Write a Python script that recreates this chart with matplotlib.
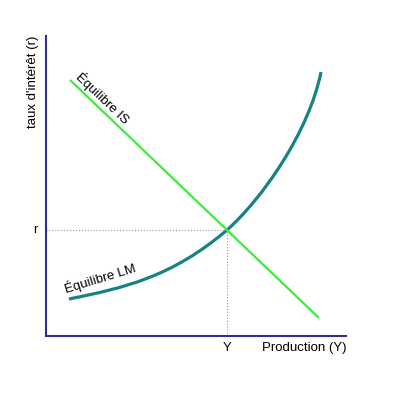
import matplotlib
matplotlib.use('Agg')
import matplotlib.pyplot as plt
from matplotlib.path import Path
from matplotlib.patches import PathPatch

plt.rcParams['font.family'] = ['Liberation Sans', 'DejaVu Sans']

# IS curve (straight line), in chart units
is_x = [24, 273]
is_y = [256, 18]

# LM curve as two cubic Bezier segments: start, control, control, eq, control, control, end
lm_x = [23, 78, 126, 181, 216, 263, 275]
lm_y = [37, 48, 59, 106, 137, 204, 264]

# equilibrium point
eq_x = 181
eq_y = 106

spine_color = '#2e2e96'
is_color = '#3ced3c'
lm_color = '#168282'

W, H = 399, 399
fig = plt.figure(figsize=(W / 100, H / 100), dpi=100, facecolor='white')
ax = fig.add_axes([46 / W, (H - 336) / H, 300 / W, 300 / H])
ax.set_xlim(0, 300)
ax.set_ylim(0, 300)

ax.plot(is_x, is_y, color=is_color, lw=1.6, solid_capstyle='butt')

codes = [Path.MOVETO] + [Path.CURVE4] * 6
lm_path = Path(list(zip(lm_x, lm_y)), codes)
ax.add_patch(PathPatch(lm_path, facecolor='none', edgecolor=lm_color, lw=2.3, capstyle='butt'))

ax.plot([0, eq_x], [eq_y, eq_y], color='#999999', lw=0.8, ls=':')
ax.plot([eq_x, eq_x], [0, eq_y], color='#999999', lw=0.8, ls=':')

for side in ['top', 'right']:
    ax.spines[side].set_visible(False)
for side in ['left', 'bottom']:
    ax.spines[side].set_color(spine_color)
    ax.spines[side].set_linewidth(1.5)
ax.set_xticks([])
ax.set_yticks([])

fs = 9.5
ax.text(-11, eq_y, 'r', fontsize=fs, ha='center', va='center')
ax.text(eq_x, -12, 'Y', fontsize=fs, ha='center', va='center')
ax.text(300, -12, 'Production (Y)', fontsize=fs, ha='right', va='center')
ax.text(-13, 300, "taux d'intérêt (r)", fontsize=fs, ha='center', va='top', rotation=90)

ax.text(57, 238, 'Équilibre IS', fontsize=fs, ha='center', va='center',
        rotation=-43.5, rotation_mode='anchor')
ax.text(54, 58, 'Équilibre LM', fontsize=fs, ha='center', va='center',
        rotation=17, rotation_mode='anchor')

fig.savefig('out.png', dpi=100, facecolor='white')
